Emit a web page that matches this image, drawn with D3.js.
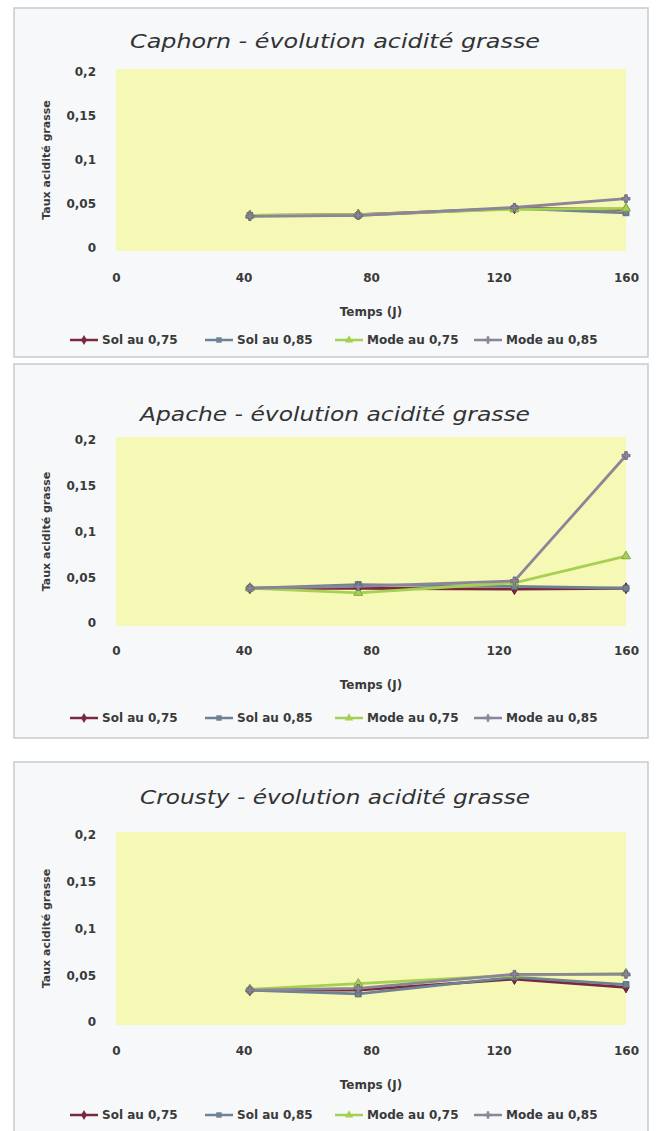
<!DOCTYPE html>
<html>
<head>
<meta charset="utf-8">
<script src="https://cdn.jsdelivr.net/npm/d3@7"></script>
<style>
  body { margin: 0; background: #fff; }
  svg { display: block; }
  .tick text { font-family: "DejaVu Sans", sans-serif; font-weight: bold; font-size: 12px; fill: #3a3a3a; }
</style>
</head>
<body>
<div id="chart"></div>
<script>
// data
const days = [42, 76, 125, 160];
const seriesNames = ['Sol au 0,75', 'Sol au 0,85', 'Mode au 0,75', 'Mode au 0,85'];
const titles = [
  'Caphorn - évolution acidité grasse',
  'Apache - évolution acidité grasse',
  'Crousty - évolution acidité grasse'
];
const caphorn = [
  [0.037, 0.038, 0.045, 0.044],
  [0.037, 0.037, 0.045, 0.040],
  [0.037, 0.038, 0.044, 0.045],
  [0.036, 0.037, 0.046, 0.056]
];
const apache = [
  [0.038, 0.038, 0.037, 0.038],
  [0.038, 0.042, 0.040, 0.038],
  [0.038, 0.033, 0.044, 0.073],
  [0.038, 0.040, 0.046, 0.183]
];
const crousty = [
  [0.034, 0.034, 0.046, 0.037],
  [0.034, 0.030, 0.048, 0.040],
  [0.035, 0.041, 0.050, 0.052],
  [0.034, 0.036, 0.051, 0.051]
];
const yTicks = [0, 0.05, 0.1, 0.15, 0.2];
const xTicks = [0, 40, 80, 120, 160];

const colors = ['#7a2840', '#6f8294', '#a6d052', '#8a8598'];
const symbols = [d3.symbolDiamond, d3.symbolSquare, d3.symbolTriangle, d3.symbolCross];

// where each panel sits on the page
const panels = [
  { data: caphorn, top: 8,   bottom: 357,  title: 41,  plotTop: 72,  plotBottom: 248,  xLab: 280,  xTitle: 312,  legend: 340 },
  { data: apache,  top: 364, bottom: 738,  title: 414, plotTop: 440, plotBottom: 623,  xLab: 653,  xTitle: 685,  legend: 718 },
  { data: crousty, top: 762, bottom: 1140, title: 797, plotTop: 835, plotBottom: 1022, xLab: 1053, xTitle: 1085, legend: 1115 }
];

const W = 659, H = 1131;
const left = 14, right = 648;
const plotLeft = 116, plotRight = 626;

const svg = d3.select('#chart').append('svg')
  .attr('width', W)
  .attr('height', H);

const fmt = d => String(d).replace('.', ',');

panels.forEach((p, i) => {
  const g = svg.append('g');

  g.append('rect')
    .attr('x', left).attr('y', p.top)
    .attr('width', right - left).attr('height', p.bottom - p.top)
    .attr('fill', '#f6f8fa')
    .attr('stroke', '#c5cbd1')
    .attr('stroke-width', 1.5);

  const x = d3.scaleLinear().domain([0, 160]).range([plotLeft, plotRight]);
  const y = d3.scaleLinear().domain([0, 0.2]).range([p.plotBottom, p.plotTop]);

  g.append('rect')
    .attr('x', plotLeft).attr('y', p.plotTop - 3)
    .attr('width', plotRight - plotLeft).attr('height', p.plotBottom - p.plotTop + 6)
    .attr('fill', '#f6f8b6');

  g.append('text')
    .attr('x', (left + right) / 2 + 4)
    .attr('y', p.title)
    .attr('dy', '0.35em')
    .attr('text-anchor', 'middle')
    .attr('font-family', 'DejaVu Sans, sans-serif')
    .attr('font-style', 'italic')
    .attr('font-size', 19)
    .attr('fill', '#333')
    .attr('textLength', i === 0 ? 410 : 390)
    .attr('lengthAdjust', 'spacingAndGlyphs')
    .text(titles[i]);

  const yAxis = g.append('g')
    .attr('transform', `translate(${plotLeft - 20},0)`)
    .call(d3.axisLeft(y).tickValues(yTicks).tickSize(0).tickPadding(0).tickFormat(fmt));
  yAxis.select('.domain').remove();

  const xAxis = g.append('g')
    .attr('transform', `translate(0,${p.xLab - 7})`)
    .call(d3.axisBottom(x).tickValues(xTicks).tickSize(0).tickPadding(0));
  xAxis.select('.domain').remove();

  g.append('text')
    .attr('x', (plotLeft + plotRight) / 2)
    .attr('y', p.xTitle)
    .attr('dy', '0.35em')
    .attr('text-anchor', 'middle')
    .attr('font-family', 'DejaVu Sans, sans-serif')
    .attr('font-weight', 'bold')
    .attr('font-size', 12)
    .attr('fill', '#3a3a3a')
    .text('Temps (J)');

  g.append('text')
    .attr('transform', `translate(46,${(p.plotTop + p.plotBottom) / 2}) rotate(-90)`)
    .attr('dy', '0.35em')
    .attr('text-anchor', 'middle')
    .attr('font-family', 'DejaVu Sans, sans-serif')
    .attr('font-weight', 'bold')
    .attr('font-size', 11)
    .attr('fill', '#3a3a3a')
    .text('Taux acidité grasse');

  const line = d3.line().x((d, k) => x(days[k])).y(d => y(d));

  p.data.forEach((vals, s) => {
    g.append('path')
      .datum(vals)
      .attr('fill', 'none')
      .attr('stroke', colors[s])
      .attr('stroke-width', 2.8)
      .attr('d', line);

    g.selectAll(null)
      .data(vals)
      .enter().append('path')
      .attr('transform', (d, k) => `translate(${x(days[k])},${y(d)})`)
      .attr('d', d3.symbol().type(symbols[s]).size(34))
      .attr('fill', colors[s])
      .attr('stroke', d3.color(colors[s]).darker(0.6));
  });

  // legend
  const legendX = [70, 205, 335, 474];
  const leg = g.append('g');
  seriesNames.forEach((name, s) => {
    const item = leg.append('g').attr('transform', `translate(${legendX[s]},${p.legend})`);
    item.append('line')
      .attr('x1', 0).attr('x2', 28)
      .attr('stroke', colors[s])
      .attr('stroke-width', 2.5);
    item.append('path')
      .attr('transform', 'translate(14,0)')
      .attr('d', d3.symbol().type(symbols[s]).size(30))
      .attr('fill', colors[s]);
    item.append('text')
      .attr('x', 32)
      .attr('dy', '0.35em')
      .attr('font-family', 'DejaVu Sans, sans-serif')
      .attr('font-weight', 'bold')
      .attr('font-size', 12)
      .attr('fill', '#3a3a3a')
      .text(name);
  });
});
</script>
</body>
</html>
